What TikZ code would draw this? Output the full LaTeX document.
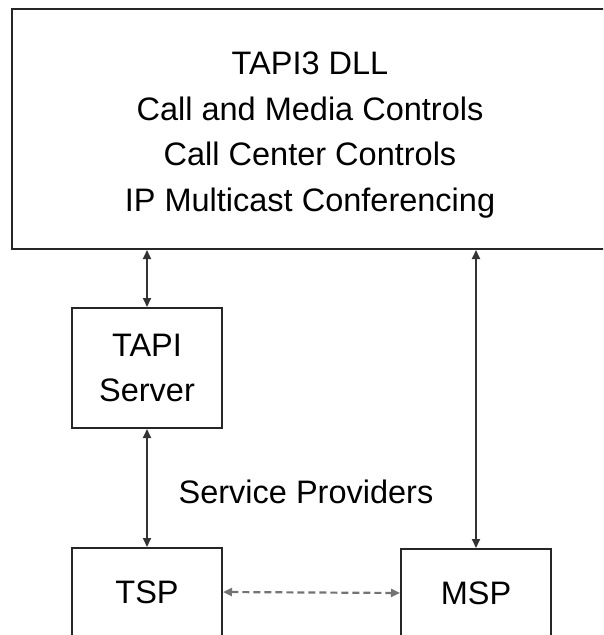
\documentclass[tikz,border=0pt]{standalone}
\usepackage{fontspec}
\setmainfont{Liberation Sans}
\usetikzlibrary{arrows.meta}

\tikzset{
  box/.style={draw=black!85, line width=2pt, inner sep=0pt, fill=white},
  link/.style={draw=black!80, line width=1.9pt, {Triangle[length=9pt,width=8pt]}-{Triangle[length=9pt,width=8pt]}},
  softlink/.style={link, draw=black!55, line width=2.2pt, dash pattern=on 7pt off 4pt}
}

\begin{document}
\begin{tikzpicture}[x=1pt, y=-1pt, font=\fontsize{32.5}{45.5}\selectfont]
  \useasboundingbox (0,0) rectangle (603,635);
  \clip (0,0) rectangle (603,635);

  \def\bw{150}% small box width
  \def\th{55}% box top to text baseline
  %
  % top box, cut at the right edge
  \node[box, anchor=north west, minimum width=598, minimum height=240] (dll) at (11,8) {};
  \node[align=center, inner sep=0pt] (dlltext) at (310,135)
    {TAPI3 DLL\\Call and Media Controls\\Call Center Controls\\IP Multicast Conferencing};

  \node[box, align=center, minimum width=\bw, minimum height=120] (server) at (147,368) {TAPI\\Server};

  % lower boxes, cut at the bottom edge
  \node[box, anchor=north, minimum width=\bw, text height=\th, text depth=100] (tsp) at (147,547) {TSP};
  \node[box, anchor=north, minimum width=\bw, text height=\th, text depth=100] (msp) at (476,548) {MSP};

  \node[inner sep=0pt] (providers) at (306,492) {Service Providers};

  \draw[link] (server.north |- dll.south) -- (server.north);
  \draw[link] (server.south) -- (tsp.north);
  \draw[link] (msp.north |- dll.south) -- (msp.north);
  \draw[softlink] ([yshift=-45pt]tsp.north east) -- ([yshift=-45pt]msp.north west);
\end{tikzpicture}
\end{document}
